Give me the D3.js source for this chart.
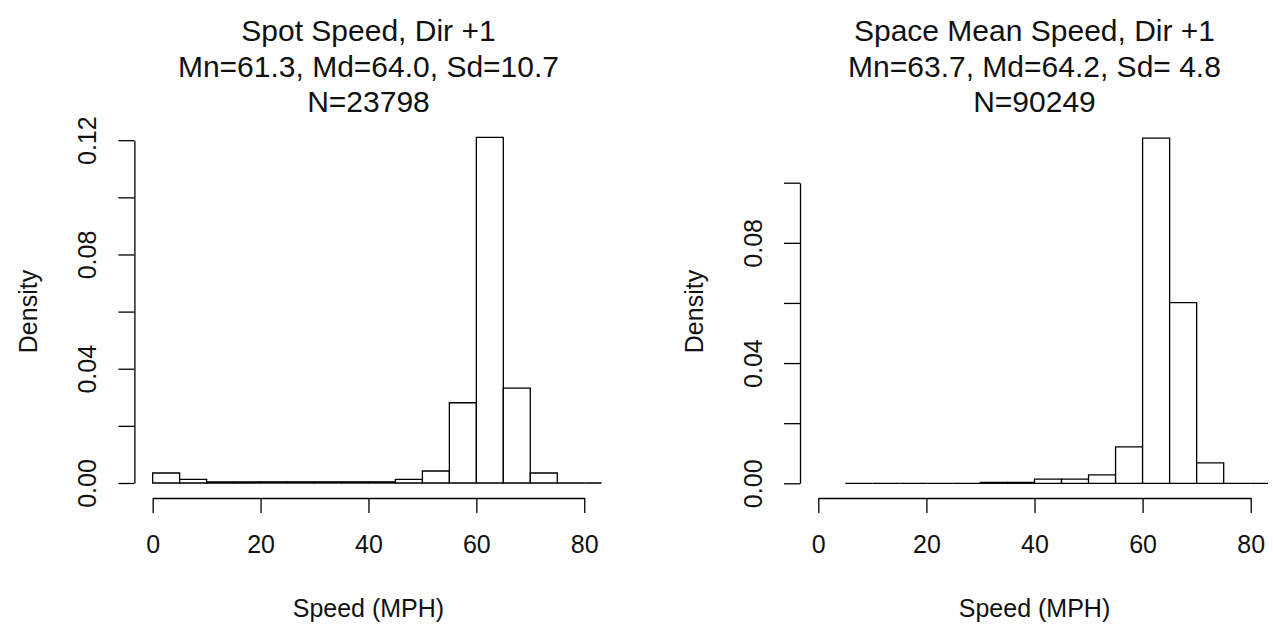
<!DOCTYPE html>
<html>
<head>
<meta charset="utf-8">
<script src="https://cdn.jsdelivr.net/npm/d3@7"></script>
<style>
  html, body { margin: 0; padding: 0; background: #fff; }
  svg { display: block; }
  text { font-family: "Liberation Sans", Arial, sans-serif; fill: #111; }
</style>
</head>
<body>
<svg id="chart" width="1273" height="628"></svg>
<script>
// ---------------- DATA ----------------
const spotTitle = ["Spot Speed, Dir +1", "Mn=61.3, Md=64.0, Sd=10.7", "N=23798"];
const spotBinEdges = [0, 5, 10, 15, 20, 25, 30, 35, 40, 45, 50, 55, 60, 65, 70, 75, 80, 85];
const spotDensity = [0.0035, 0.0013, 0.0004, 0.0004, 0.0004, 0.0004, 0.0004, 0.0004, 0.0004,
                     0.0013, 0.0042, 0.0281, 0.1210, 0.0332, 0.0035, 0, 0];
const spotYTicks = [0, 0.02, 0.04, 0.06, 0.08, 0.10, 0.12];
const spotYLabels = ["0.00", "", "0.04", "", "0.08", "", "0.12"];

const smsTitle = ["Space Mean Speed, Dir +1", "Mn=63.7, Md=64.2, Sd= 4.8", "N=90249"];
const smsBinEdges = [5, 10, 15, 20, 25, 30, 35, 40, 45, 50, 55, 60, 65, 70, 75, 80, 85];
const smsDensity = [0, 0, 0, 0, 0, 0.0003, 0.0003, 0.0014, 0.0014, 0.0028, 0.0121,
                    0.1148, 0.0601, 0.0068, 0, 0];
const smsYTicks = [0, 0.02, 0.04, 0.06, 0.08, 0.10];
const smsYLabels = ["0.00", "", "0.04", "", "0.08", ""];

const xTicks = [0, 20, 40, 60, 80];
const xTickLabels = ["0", "20", "40", "60", "80"];
const xLabel = "Speed (MPH)";
const yLabel = "Density";

// ---------------- LAYOUT ----------------
const panels = [
  { title: spotTitle, edges: spotBinEdges, dens: spotDensity, yTicks: spotYTicks, yLabels: spotYLabels,
    left: 135.4, right: 601.5, y0px: 483, yTopVal: 0.12, yTopPx: 140.2 },
  { title: smsTitle, edges: smsBinEdges, dens: smsDensity, yTicks: smsYTicks, yLabels: smsYLabels,
    left: 801, right: 1268, y0px: 483.3, yTopVal: 0.10, yTopPx: 182.7 }
];
const xDomain = [-3.2, 83.2];
const regionTop = 120, regionBottom = 498;
const axisFont = 25, titleFont = 30;
const lw = 1.3;

const svg = d3.select("#chart");

panels.forEach((p, i) => {
  const g = svg.append("g");
  const xs = d3.scaleLinear().domain(xDomain).range([p.left, p.right]);
  const ys = d3.scaleLinear().domain([0, p.yTopVal]).range([p.y0px, p.yTopPx]);

  // clip to plot region
  const clipId = "clip" + i;
  svg.append("clipPath").attr("id", clipId)
    .append("rect").attr("x", p.left).attr("y", regionTop - 10)
    .attr("width", p.right - p.left).attr("height", regionBottom - regionTop + 10);

  // bars
  const bins = p.dens.map((d, k) => ({ x0: p.edges[k], x1: p.edges[k + 1], d }));
  g.append("g").attr("clip-path", `url(#${clipId})`)
    .selectAll("path").data(bins).join("path")
    .attr("d", b => {
      const pth = d3.path();
      pth.moveTo(xs(b.x0), ys(0));
      pth.lineTo(xs(b.x0), ys(b.d));
      pth.lineTo(xs(b.x1), ys(b.d));
      pth.lineTo(xs(b.x1), ys(0));
      pth.closePath();
      return pth.toString();
    })
    .attr("fill", "#fff").attr("stroke", "#000").attr("stroke-width", lw)
    .attr("stroke-linejoin", "miter");

  // x axis (line spans the tick range)
  const xAxisScale = xs.copy().domain([xTicks[0], xTicks[xTicks.length - 1]])
    .range([xs(xTicks[0]), xs(xTicks[xTicks.length - 1])]);
  const xAx = g.append("g").attr("transform", `translate(0,${regionBottom})`)
    .call(d3.axisBottom(xAxisScale).tickValues(xTicks)
      .tickFormat((d, k) => xTickLabels[k]).tickSize(15).tickSizeOuter(0).tickPadding(22));
  xAx.select(".domain").attr("stroke", "#000").attr("stroke-width", lw);
  xAx.selectAll(".tick line").attr("stroke", "#000").attr("stroke-width", lw);
  xAx.selectAll("text").attr("font-size", axisFont).attr("fill", "#111")
    .attr("font-family", "Liberation Sans, Arial, sans-serif");

  // y axis
  const yAxisScale = ys.copy().domain([p.yTicks[0], p.yTicks[p.yTicks.length - 1]])
    .range([ys(p.yTicks[0]), ys(p.yTicks[p.yTicks.length - 1])]);
  const yAx = g.append("g").attr("transform", `translate(${p.left - 1},0)`)
    .call(d3.axisLeft(yAxisScale).tickValues(p.yTicks)
      .tickFormat((d, k) => p.yLabels[k]).tickSize(16).tickSizeOuter(0));
  yAx.select(".domain").attr("stroke", "#000").attr("stroke-width", lw);
  yAx.selectAll(".tick line").attr("stroke", "#000").attr("stroke-width", lw);
  yAx.selectAll("text")
    .attr("x", null).attr("y", null).attr("dy", "0.36em")
    .attr("transform", "translate(-47,0) rotate(-90)")
    .attr("text-anchor", "middle")
    .attr("font-size", axisFont).attr("fill", "#111")
    .attr("font-family", "Liberation Sans, Arial, sans-serif");

  const cx = (p.left + p.right) / 2;
  // title
  const t = g.append("text").attr("text-anchor", "middle").attr("font-size", titleFont);
  p.title.forEach((line, k) => {
    t.append("tspan").attr("x", cx).attr("y", 41 + k * 35.5).text(line);
  });

  // x label
  g.append("text").attr("x", cx).attr("y", 617).attr("text-anchor", "middle")
    .attr("font-size", axisFont).text(xLabel);

  // y label
  const cy = (regionTop + 5 + regionBottom) / 2;
  g.append("text").attr("transform", `translate(${p.left - 107},${cy}) rotate(-90)`)
    .attr("dy", "0.36em").attr("text-anchor", "middle")
    .attr("font-size", axisFont).text(yLabel);
});
</script>
</body>
</html>
